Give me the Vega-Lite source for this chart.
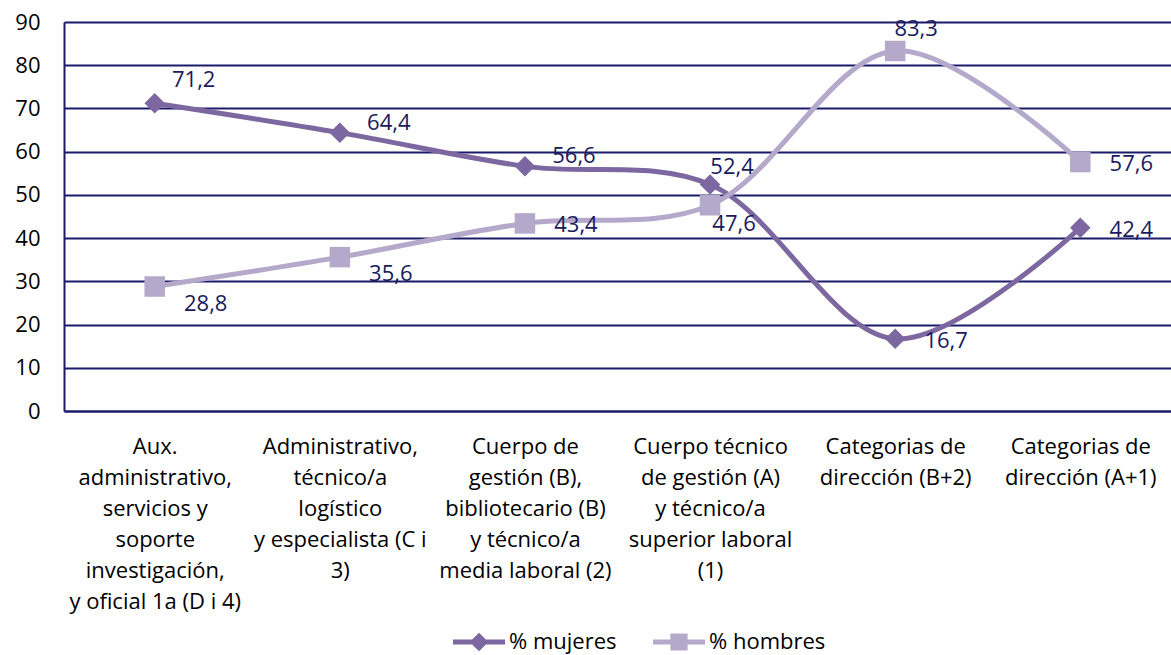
{
  "$schema": "https://vega.github.io/schema/vega-lite/v6.json",
  "width": 1107,
  "height": 389,
  "padding": {"left": 64, "top": 22, "right": 0, "bottom": 244},
  "autosize": {"type": "none"},
  "background": "white",
  "config": {
    "font": "Open Sans",
    "locale": {"number": {"decimal": ",", "thousands": ".", "grouping": [3], "currency": ["", " €"]}},
    "view": {"stroke": null},
    "axis": {"labelFont": "Open Sans", "labelFontSize": 22, "labelColor": "#000000"},
    "text": {"font": "Open Sans", "fontSize": 22, "color": "#1a1a5e"}
  },
  "data": {
    "values": [
      {"n": 1, "cat": "Aux.|administrativo,|servicios y|soporte|investigación,|y oficial 1a (D i 4)", "serie": "% mujeres", "v": 71.2},
      {"n": 2, "cat": "Administrativo,|técnico/a|logístico|y especialista (C i|3)", "serie": "% mujeres", "v": 64.4},
      {"n": 3, "cat": "Cuerpo de|gestión (B),|bibliotecario (B)|y técnico/a|media laboral (2)", "serie": "% mujeres", "v": 56.6},
      {"n": 4, "cat": "Cuerpo técnico|de gestión (A)|y técnico/a|superior laboral|(1)", "serie": "% mujeres", "v": 52.4},
      {"n": 5, "cat": "Categorias de|dirección (B+2)", "serie": "% mujeres", "v": 16.7},
      {"n": 6, "cat": "Categorias de|dirección (A+1)", "serie": "% mujeres", "v": 42.4},
      {"n": 1, "cat": "Aux.|administrativo,|servicios y|soporte|investigación,|y oficial 1a (D i 4)", "serie": "% hombres", "v": 28.8},
      {"n": 2, "cat": "Administrativo,|técnico/a|logístico|y especialista (C i|3)", "serie": "% hombres", "v": 35.6},
      {"n": 3, "cat": "Cuerpo de|gestión (B),|bibliotecario (B)|y técnico/a|media laboral (2)", "serie": "% hombres", "v": 43.4},
      {"n": 4, "cat": "Cuerpo técnico|de gestión (A)|y técnico/a|superior laboral|(1)", "serie": "% hombres", "v": 47.6},
      {"n": 5, "cat": "Categorias de|dirección (B+2)", "serie": "% hombres", "v": 83.3},
      {"n": 6, "cat": "Categorias de|dirección (A+1)", "serie": "% hombres", "v": 57.6}
    ]
  },
  "encoding": {
    "x": {
      "field": "cat", "type": "ordinal", "sort": {"field": "n"},
      "scale": {"type": "point", "padding": 0.49},
      "axis": {
        "title": null, "labelAngle": 0, "ticks": false,
        "domainColor": "#1b1b6b", "domainWidth": 2,
        "labelExpr": "split(datum.value, '|')",
        "labelLineHeight": 31, "labelPadding": 25, "labelBaseline": "top",
        "labelAlign": "center"
      }
    },
    "y": {
      "field": "v", "type": "quantitative",
      "scale": {"domain": [0, 90], "nice": false},
      "axis": {
        "title": null, "values": [0, 10, 20, 30, 40, 50, 60, 70, 80, 90],
        "ticks": false, "labelPadding": 24,
        "gridColor": "#1b1b6b", "gridWidth": 2, "gridOpacity": 1,
        "domainColor": "#1b1b6b", "domainWidth": 2
      }
    },
    "color": {
      "field": "serie", "type": "nominal",
      "scale": {"domain": ["% mujeres", "% hombres"], "range": ["#7c67a0", "#b4a8cb"]},
      "legend": {
        "title": null, "orient": "none", "direction": "horizontal",
        "legendX": 389, "legendY": 594,
        "labelFontSize": 22, "labelFont": "Open Sans", "labelColor": "#000000",
        "symbolSize": 2704, "symbolStrokeWidth": 0, "symbolOpacity": 1,
        "columnPadding": 36, "labelOffset": 4
      }
    }
  },
  "layer": [
    {
      "mark": {"type": "line", "interpolate": "catmull-rom", "strokeWidth": 5}
    },
    {
      "mark": {"type": "point", "filled": true, "opacity": 1, "size": 420},
      "encoding": {
        "shape": {"condition": {"test": "datum.serie == '% mujeres'", "value": "diamond"}, "value": "square"}
      }
    },
    {
      "transform": [{"filter": "datum.n == 0"}],
      "mark": {"type": "point", "filled": true, "opacity": 1, "size": 2704, "strokeWidth": 0},
      "encoding": {
        "shape": {
          "field": "serie", "type": "nominal",
          "scale": {
            "domain": ["% mujeres", "% hombres"],
            "range": [
              "M-1,-0.1L1,-0.1L1,0.1L-1,0.1Z M-0.36,0L0,-0.36L0.36,0L0,0.36Z",
              "M-1,-0.1L1,-0.1L1,0.1L-1,0.1Z M-0.33,-0.33L0.33,-0.33L0.33,0.33L-0.33,0.33Z"
            ]
          }
        }
      }
    },
    {
      "transform": [{"filter": "datum.serie == '% mujeres' && datum.n == 1"}],
      "mark": {"type": "text", "dx": 39, "dy": -23},
      "encoding": {"text": {"field": "v", "type": "quantitative", "format": ".1f"}, "color": {"value": "#1a1a5e"}}
    },
    {
      "transform": [{"filter": "datum.serie == '% mujeres' && (datum.n == 2 || datum.n == 3)"}],
      "mark": {"type": "text", "dx": 49, "dy": -10},
      "encoding": {"text": {"field": "v", "type": "quantitative", "format": ".1f"}, "color": {"value": "#1a1a5e"}}
    },
    {
      "transform": [{"filter": "datum.serie == '% hombres' && datum.n <= 2"}],
      "mark": {"type": "text", "dx": 51, "dy": 17},
      "encoding": {"text": {"field": "v", "type": "quantitative", "format": ".1f"}, "color": {"value": "#1a1a5e"}}
    },
    {
      "transform": [{"filter": "(datum.serie == '% mujeres' && datum.n >= 5) || (datum.serie == '% hombres' && (datum.n == 3 || datum.n == 6))"}],
      "mark": {"type": "text", "dx": 51, "dy": 2},
      "encoding": {"text": {"field": "v", "type": "quantitative", "format": ".1f"}, "color": {"value": "#1a1a5e"}}
    },
    {
      "transform": [{"filter": "datum.serie == '% mujeres' && datum.n == 4"}],
      "mark": {"type": "text", "dx": 22, "dy": -18},
      "encoding": {"text": {"field": "v", "type": "quantitative", "format": ".1f"}, "color": {"value": "#1a1a5e"}}
    },
    {
      "transform": [{"filter": "datum.serie == '% hombres' && datum.n == 4"}],
      "mark": {"type": "text", "dx": 24, "dy": 19},
      "encoding": {"text": {"field": "v", "type": "quantitative", "format": ".1f"}, "color": {"value": "#1a1a5e"}}
    },
    {
      "transform": [{"filter": "datum.serie == '% hombres' && datum.n == 5"}],
      "mark": {"type": "text", "dx": 21, "dy": -22},
      "encoding": {"text": {"field": "v", "type": "quantitative", "format": ".1f"}, "color": {"value": "#1a1a5e"}}
    }
  ]
}
